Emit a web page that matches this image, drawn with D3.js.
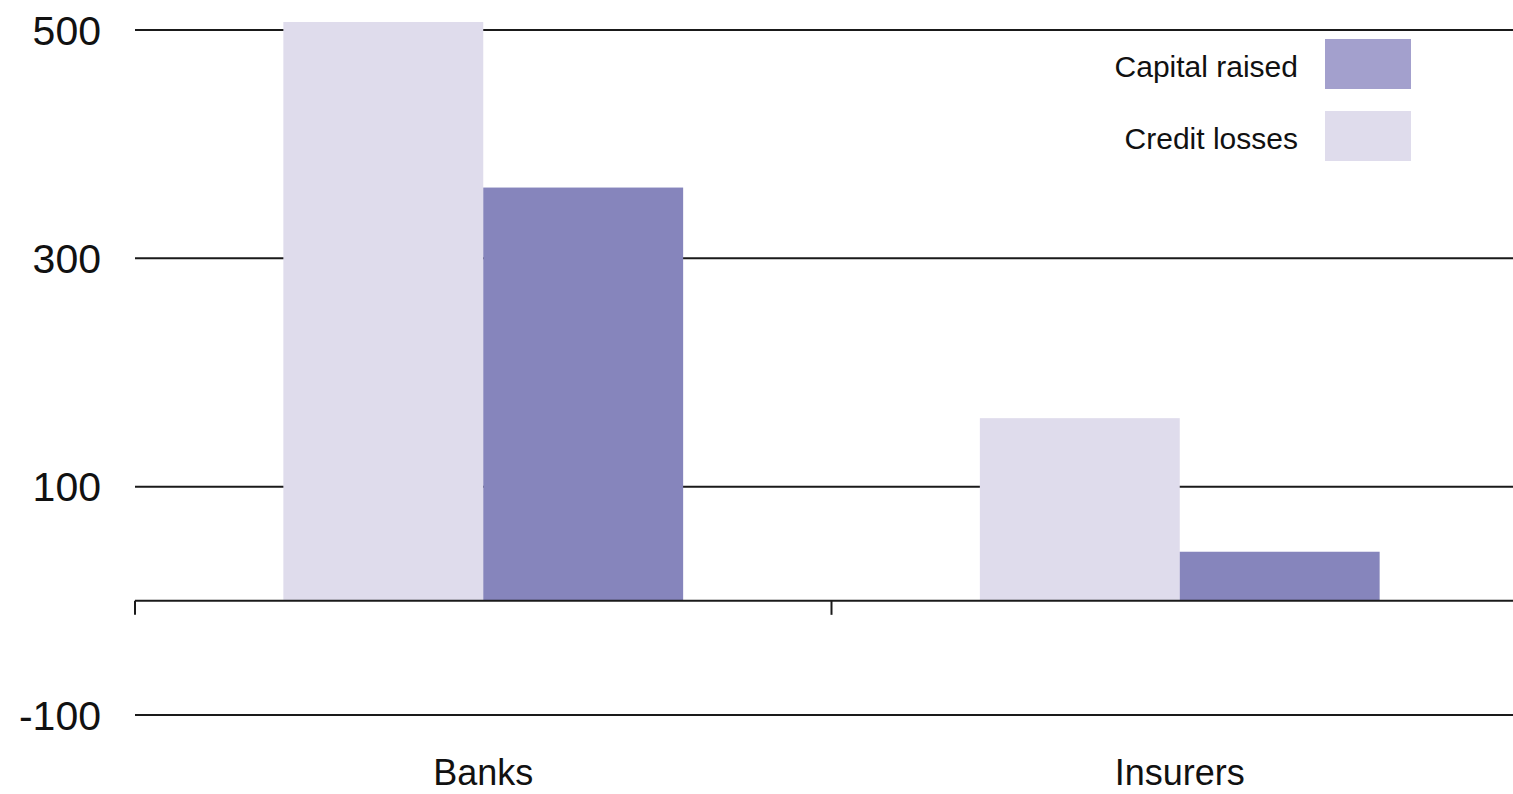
<!DOCTYPE html>
<html>
<head>
<meta charset="utf-8">
<script src="https://cdn.jsdelivr.net/npm/d3@7"></script>
<style>
  html, body { margin: 0; padding: 0; background: #fff; overflow: hidden; }
  text { font-family: "Liberation Sans", Arial, sans-serif; fill: #111; }
</style>
</head>
<body>
<div id="chart"></div>
<script>
// Chart data
var categories = ["Banks", "Insurers"];
var seriesNames = ["Credit losses", "Capital raised"];
var creditLosses = [507, 160];
var capitalRaised = [362, 43];
var yTicks = [-100, 100, 300, 500];
var legendNames = ["Capital raised", "Credit losses"];

var barColors = { "Credit losses": "#dfdcec", "Capital raised": "#8685bc" };
var legendColors = { "Capital raised": "#a3a0cd", "Credit losses": "#dfdcec" };

var width = 1513, height = 794;

var svg = d3.select("#chart")
    .append("svg")
    .attr("width", width)
    .attr("height", height);

// Scales
var x = d3.scaleBand()
    .domain(categories)
    .range([135, 1528])
    .padding(0);

// bars take up a bit more than half of each category band
var bw = x.bandwidth();
var groupWidth = bw * 0.574;
var xInner = d3.scaleBand()
    .domain(seriesNames)
    .range([(bw - groupWidth) / 2, (bw + groupWidth) / 2])
    .padding(0);

var y = d3.scaleLinear()
    .domain([-100, 500])
    .range([715, 30]);

// Build the bar rows from the series arrays
var rows = [];
categories.forEach(function(c, i) {
    rows.push({ cat: c, series: "Credit losses", value: creditLosses[i] });
    rows.push({ cat: c, series: "Capital raised", value: capitalRaised[i] });
});

// Gridlines and y labels
var grid = svg.append("g").attr("class", "grid");
grid.selectAll("line")
    .data(yTicks)
    .enter()
    .append("line")
    .attr("x1", 135)
    .attr("x2", width)
    .attr("y1", function(d) { return y(d); })
    .attr("y2", function(d) { return y(d); })
    .attr("stroke", "#1a1a1a")
    .attr("stroke-width", 2);

grid.selectAll("text")
    .data(yTicks)
    .enter()
    .append("text")
    .attr("x", 101)
    .attr("y", function(d) { return y(d); })
    .attr("dy", "0.36em")
    .attr("text-anchor", "end")
    .style("font-size", "41px")
    .text(function(d) { return d; });

// Bars
svg.selectAll(".bar")
    .data(rows)
    .enter()
    .append("rect")
    .attr("class", "bar")
    .attr("x", function(d) { return x(d.cat) + xInner(d.series); })
    .attr("width", xInner.bandwidth())
    .attr("y", function(d) { return y(Math.max(0, d.value)); })
    .attr("height", function(d) { return Math.abs(y(d.value) - y(0)); })
    .attr("fill", function(d) { return barColors[d.series]; });

// Zero axis with category boundary ticks
var axisG = svg.append("g")
    .attr("transform", "translate(0," + y(0) + ")");
axisG.append("line")
    .attr("x1", 135)
    .attr("x2", width)
    .attr("stroke", "#1a1a1a")
    .attr("stroke-width", 2);
axisG.selectAll(".tick")
    .data(categories)
    .enter()
    .append("line")
    .attr("x1", function(d) { return x(d); })
    .attr("x2", function(d) { return x(d); })
    .attr("y1", 0)
    .attr("y2", 14)
    .attr("stroke", "#1a1a1a")
    .attr("stroke-width", 2);

// Category labels
svg.selectAll(".catLabel")
    .data(categories)
    .enter()
    .append("text")
    .attr("class", "catLabel")
    .attr("x", function(d) { return x(d) + x.bandwidth() / 2; })
    .attr("y", 785)
    .attr("text-anchor", "middle")
    .style("font-size", "36px")
    .text(function(d) { return d; });

// Legend
var legend = svg.append("g").attr("class", "legend");
var legendItem = legend.selectAll("g")
    .data(legendNames)
    .enter()
    .append("g")
    .attr("transform", function(d, i) { return "translate(0," + (39 + i * 72) + ")"; });

legendItem.append("rect")
    .attr("x", 1325)
    .attr("width", 86)
    .attr("height", 50)
    .attr("fill", function(d) { return legendColors[d]; });

legendItem.append("text")
    .attr("x", 1298)
    .attr("y", 27)
    .attr("dy", "0.36em")
    .attr("text-anchor", "end")
    .style("font-size", "30px")
    .text(function(d) { return d; });
</script>
</body>
</html>
